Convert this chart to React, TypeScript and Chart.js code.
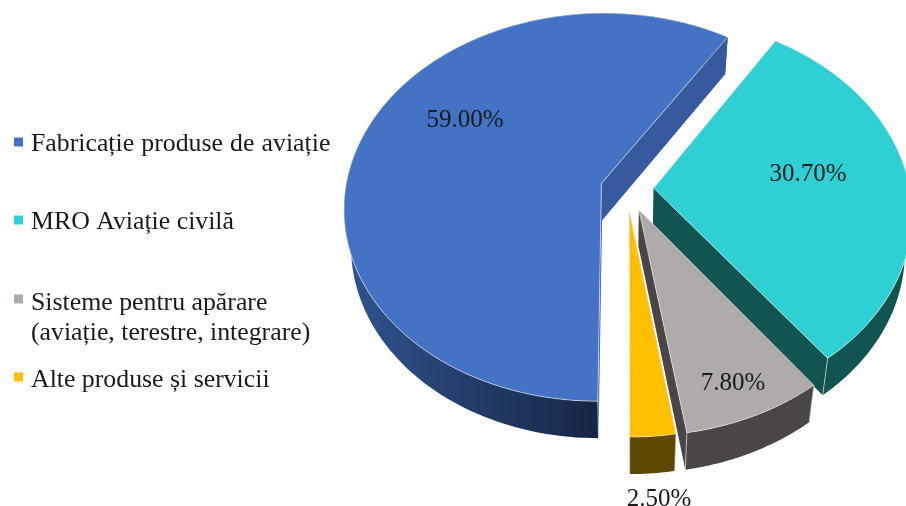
import React, { useEffect, useRef } from "react";
import { Chart, registerables } from "chart.js";

Chart.register(...registerables);

const categories: (string | string[])[] = [
  "Fabricație produse de aviație",
  "MRO Aviație civilă",
  ["Sisteme pentru apărare", "(aviație, terestre, integrare)"],
  "Alte produse și servicii",
];
const shares = [59.0, 30.7, 7.8, 2.5];
const topColors = ["#4472C4", "#2FD0D3", "#AFABAB", "#FFC000"];
const sideColors = ["#375A9E", "#125452", "#4A4647", "#5F4800"];
const rimColorsFrom = ["#30548F", "#125452", "#4A4647", "#5F4800"];
const rimColorsTo = ["#172646", "#125452", "#4A4647", "#5F4800"];
const explode = [25, 25, 28, 27];

const FONT = '"Liberation Serif", "Times New Roman", serif';
const INK = "#1a1a1a";

// Perspective of the pie plane on the page
const view = { cx: 627, cy: 189, sx: 256, sy: 192.5, k: 0.1229, depth: 37, shrink: 0.975 };
const legendLayout = {
  markerX: 14, markerSize: 9, textX: 31, fontPx: 25.8, lineGap: 30,
  baselines: [151, 229, 310, 387],
  markers: [142, 220, 299, 377],
  wordSpacing: ["0.7px", "0px", "0px", "0px"],
};
const labelFontPx = 25;
const labelSpots = [[465, 120], [808, 174], [733, 383], [659, 499]];

function project(u: number, v: number): [number, number] {
  const w = 1 - view.k * v;
  return [view.cx + (view.sx * u) / w, view.cy + (view.sy * v) / w];
}
function lower(p: [number, number]): [number, number] {
  return [view.cx + (p[0] - view.cx) * view.shrink, p[1] + view.depth];
}

const pie3d = {
  id: "pie3d",
  beforeDatasetsDraw(chart: any) {
    const ctx: CanvasRenderingContext2D = chart.ctx;
    const meta = chart.getDatasetMeta(0);
    meta.data.forEach((arc: any, i: number) => {
      const { startAngle, endAngle, outerRadius } = arc.getProps(["startAngle", "endAngle", "outerRadius"], true);
      const mid = (startAngle + endAngle) / 2;
      const off = arc.options.offset / outerRadius;
      const ou = Math.cos(mid) * off;
      const ov = Math.sin(mid) * off;
      const apex = project(ou, ov);
      const apexLow = lower(apex);
      const steps = 140;
      const rim: [number, number][] = [];
      for (let s = 0; s <= steps; s++) {
        const a = startAngle + ((endAngle - startAngle) * s) / steps;
        rim.push(project(ou + Math.cos(a), ov + Math.sin(a)));
      }

      // outer wall
      const xs = rim.map((p) => p[0]);
      const lo = Math.min(...xs);
      const hi = Math.max(...xs);
      const grad = ctx.createLinearGradient(lo, 0, Math.max(hi, lo + 1), 0);
      grad.addColorStop(0, rimColorsFrom[i]);
      grad.addColorStop(i === 0 ? 0.65 : 1, rimColorsTo[i]);
      ctx.fillStyle = grad;
      ctx.beginPath();
      rim.forEach((p, s) => (s ? ctx.lineTo(p[0], p[1]) : ctx.moveTo(p[0], p[1])));
      for (let s = steps; s >= 0; s--) {
        const q = lower(rim[s]);
        ctx.lineTo(q[0], q[1]);
      }
      ctx.closePath();
      ctx.fill();

      // radial side walls
      ctx.fillStyle = sideColors[i];
      for (const p of [rim[0], rim[steps]]) {
        const q = lower(p);
        ctx.beginPath();
        ctx.moveTo(apex[0], apex[1]);
        ctx.lineTo(p[0], p[1]);
        ctx.lineTo(q[0], q[1]);
        ctx.lineTo(apexLow[0], apexLow[1]);
        ctx.closePath();
        ctx.fill();
      }

      // top face
      ctx.beginPath();
      ctx.moveTo(apex[0], apex[1]);
      rim.forEach((p) => ctx.lineTo(p[0], p[1]));
      ctx.closePath();
      ctx.fillStyle = arc.options.backgroundColor;
      ctx.fill();
      ctx.strokeStyle = "rgba(255,255,255,0.55)";
      ctx.lineWidth = 1;
      ctx.stroke();

      // light corner edges on the wall
      ctx.beginPath();
      for (const p of [rim[0], rim[steps]]) {
        if (p[1] > apex[1]) {
          const q = lower(p);
          ctx.moveTo(p[0], p[1]);
          ctx.lineTo(q[0], q[1]);
        }
      }
      ctx.stroke();
    });
    return false;
  },
  afterDraw(chart: any) {
    const ctx: CanvasRenderingContext2D = chart.ctx;
    const L = legendLayout;
    ctx.save();
    ctx.font = `${L.fontPx}px ${FONT}`;
    ctx.fillStyle = INK;
    ctx.textAlign = "left";
    ctx.textBaseline = "alphabetic";
    const values = chart.data.datasets[0].data;
    const colors = chart.data.datasets[0].backgroundColor;

    chart.data.labels.forEach((label: string | string[], i: number) => {
      ctx.fillStyle = colors[i];
      ctx.fillRect(L.markerX, L.markers[i] - L.markerSize / 2, L.markerSize, L.markerSize);
      ctx.fillStyle = INK;
      (ctx as any).wordSpacing = L.wordSpacing[i];
      const lines = Array.isArray(label) ? label : [label];
      lines.forEach((line, n) => ctx.fillText(line, L.textX, L.baselines[i] + n * L.lineGap));
    });

    (ctx as any).wordSpacing = "0px";
    ctx.font = `${labelFontPx}px ${FONT}`;
    ctx.textAlign = "center";
    ctx.textBaseline = "middle";
    values.forEach((v: number, i: number) => {
      ctx.fillText(`${v.toFixed(2)}%`, labelSpots[i][0], labelSpots[i][1]);
    });
    ctx.restore();
  },
};

export default function App() {
  const ref = useRef<HTMLCanvasElement>(null);
  useEffect(() => {
    const chart = new Chart(ref.current!, {
      type: "pie",
      data: {
        labels: categories as any,
        datasets: [{ data: shares, backgroundColor: topColors, borderWidth: 0, offset: explode }],
      },
      options: {
        responsive: false,
        animation: false,
        rotation: 180,
        plugins: { legend: { display: false }, tooltip: { enabled: false } },
      },
      plugins: [pie3d as any],
    });
    return () => chart.destroy();
  }, []);
  return (
    <div style={{ position: "absolute", left: 0, top: 0, width: 906, height: 506, overflow: "hidden", background: "#fff" }}>
      <canvas ref={ref} width={906} height={506} style={{ display: "block" }} />
    </div>
  );
}
